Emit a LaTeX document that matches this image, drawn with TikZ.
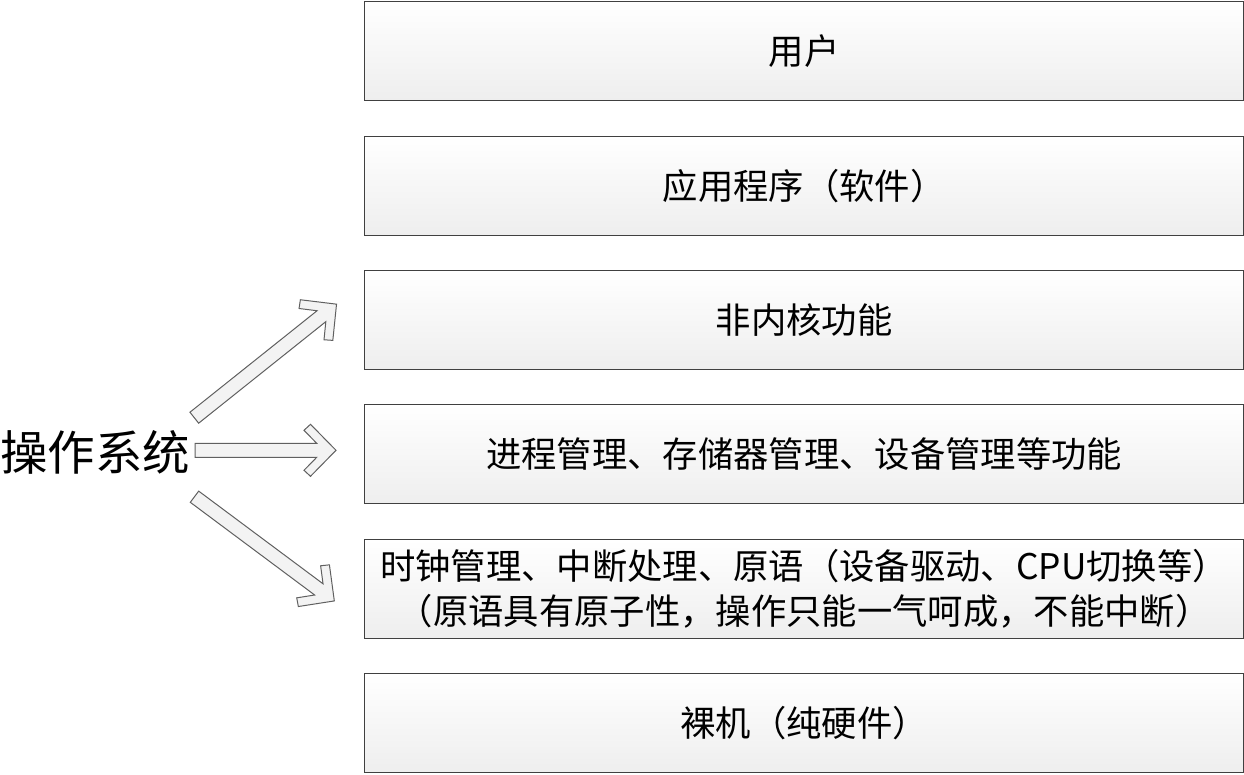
\documentclass[tikz,border=0pt]{standalone}
\usepackage{fontspec}
\setmainfont{Noto Sans CJK SC}
\begin{document}
\begin{tikzpicture}[x=0.75pt,y=-0.75pt,
  layerbox/.style={draw=boxedge,line width=0.9pt,top color=white,bottom color=boxfill,
    minimum width=879*0.75pt,minimum height=99*0.75pt,inner sep=0pt,anchor=north west,
    font=\fontsize{26.5pt}{34pt}\selectfont,align=center},
  arrowshape/.style={draw=arrowedge,fill=arrowfill,line width=0.75pt,line join=miter},
  pics/blockarrow/.style={code={
    \path[arrowshape] (0,-7) -- (#1-19.3,-7) -- (#1-32,-20) -- (#1-25.5,-26) -- (#1,0)
      -- (#1-25.5,26) -- (#1-32,20) -- (#1-19.3,7) -- (0,7) -- cycle;}}]
\definecolor{boxedge}{HTML}{404040}
\definecolor{boxfill}{HTML}{EEEEEE}
\definecolor{arrowedge}{HTML}{606060}
\definecolor{arrowfill}{HTML}{F3F3F3}
\useasboundingbox (0,0) rectangle (1244,774);

% layers of the system, top to bottom
\node[layerbox] (user) at (364,0.6) {用户};
\node[layerbox] (app)  at (364,135.5) {应用程序（软件）};
\node[layerbox] (nonkernel) at (364,270) {非内核功能};
\node[layerbox] (kernel) at (364,404) {进程管理、存储器管理、设备管理等功能};
\node[layerbox] (prim) at (364,538.5) {时钟管理、中断处理、原语（设备驱动、CPU切换等）\\（原语具有原子性，操作只能一气呵成，不能中断）};
\node[layerbox] (hw) at (364,673) {裸机（纯硬件）};

% operating system label
\node[font=\fontsize{35.6pt}{40pt}\selectfont,inner sep=0pt] (os) at (95,452) {操作系统};

% arrows from the label to the layers it covers
\coordinate (tailA) at (194.3,417.7);
\coordinate (tailB) at (195,450.3);
\coordinate (tailC) at (194.5,496.7);
\pic[rotate=38.6] at (tailA) {blockarrow=182};
\pic at (tailB) {blockarrow=141};
\pic[rotate=-36.7] at (tailC) {blockarrow=174.4};
\end{tikzpicture}
\end{document}
